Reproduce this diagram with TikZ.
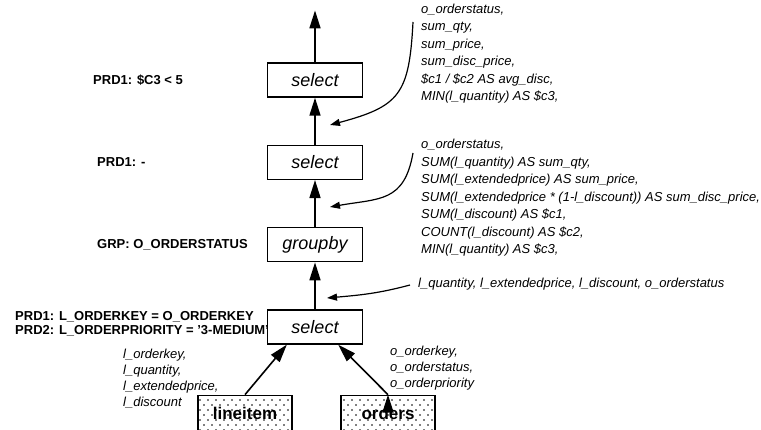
\documentclass[tikz,border=0pt]{standalone}
\usepackage{fontspec}
\setmainfont{Liberation Sans}
\usepackage{tikz}
\usetikzlibrary{positioning, arrows.meta, patterns}

% sparse dot fill of the base relations
\pgfdeclarepatternformonly{sparse dots}{\pgfqpoint{-1pt}{-1pt}}{\pgfqpoint{5pt}{6pt}}{\pgfqpoint{8pt}{10pt}}{%
  \pgfpathcircle{\pgfqpoint{0pt}{0pt}}{0.9pt}%
  \pgfpathcircle{\pgfqpoint{4pt}{5pt}}{0.9pt}%
  \pgfusepath{fill}}

\begin{document}
\begin{tikzpicture}[x=1pt, y=1pt, node distance=47pt,
    op/.style={draw, line width=1.3pt, minimum width=95pt, minimum height=34pt, inner sep=0pt, font=\fontsize{18}{20}\selectfont\itshape},
    rel/.style={op, minimum width=94pt, minimum height=36pt, pattern=sparse dots, font=\fontsize{17}{20}\selectfont\bfseries},
    lbl/.style={anchor=west, inner sep=0pt, font=\fontsize{13}{14}\selectfont\bfseries},
    attr/.style={anchor=north west, align=left, inner sep=0pt, font=\fontsize{13}{17.5}\selectfont\itshape},
    leafattr/.style={attr, font=\fontsize{13}{16}\selectfont\itshape},
    flow/.style={line width=1.6pt, -{Triangle[length=18pt,width=11pt]}},
    feed/.style={line width=1.2pt, -{Triangle[length=10pt,width=7pt]}}]
        \useasboundingbox (0,0) rectangle (761,-430);

        \node[op](sel1) at (315,-327){select};
        \node[op](grp)[above = of sel1]{groupby};
        \node[op](sel2)[above = of grp]{select};
        \node[op](sel3)[above = of sel2]{select};
        \node[rel](li)[below = 50pt of sel1, xshift=-70pt]{lineitem};
        \node[rel](ord)[below = 50pt of sel1, xshift=73pt]{orders};
        \coordinate[above = 52pt of sel3](out);

        \path[draw, flow]
        (sel3) edge (out)
        (sel2) edge (sel3)
        (grp) edge (sel2)
        (sel1) edge (grp)
        (li.north) edge ([xshift=20pt]sel1.south west)
        (ord.north) edge ([xshift=-25pt]sel1.south east);

        % operator arguments
        \node[lbl](p3) at (93,0 |- sel3){PRD1: \$C3 < 5};
        \node[lbl](p2) at (97,0 |- sel2){PRD1: -};
        \node[lbl](gp) at (97,0 |- grp){GRP: O\_ORDERSTATUS};
        \node[lbl, anchor=north west, align=left](p1) at (15,-311){PRD1: L\_ORDERKEY = O\_ORDERKEY\\PRD2: L\_ORDERPRIORITY = '3-MEDIUM'};

        % projected columns
        \node[attr](c3) at (421,-3.5){o\_orderstatus,\\sum\_qty,\\sum\_price,\\sum\_disc\_price,\\\$c1 / \$c2 AS avg\_disc,\\MIN(l\_quantity) AS \$c3,};
        \node[attr](c2) at (421,-139){o\_orderstatus,\\SUM(l\_quantity) AS sum\_qty,\\SUM(l\_extendedprice) AS sum\_price,\\SUM(l\_extendedprice * (1-l\_discount)) AS sum\_disc\_price,\\SUM(l\_discount) AS \$c1,\\COUNT(l\_discount) AS \$c2,\\MIN(l\_quantity) AS \$c3,};
        \node[attr](c1) at (418,-278){l\_quantity, l\_extendedprice, l\_discount, o\_orderstatus};
        \node[leafattr](cl) at (123,-349){l\_orderkey,\\l\_quantity,\\l\_extendedprice,\\l\_discount};
        \node[leafattr](co) at (390,-346){o\_orderkey,\\o\_orderstatus,\\o\_orderpriority};

        \coordinate (f3a) at (413,-22);
        \coordinate (f3b) at (330,-125);
        \coordinate (f2a) at (413,-153);
        \coordinate (f2b) at (330,-207);
        \coordinate (f1a) at (410,-285);
        \coordinate (f1b) at (327,-298);
        \draw[feed] (f3a) to[out=-93, in=15, looseness=1.4] (f3b);
        \draw[feed] (f2a) to[out=-100, in=10, looseness=1.3] (f2b);
        \draw[feed] (f1a) to[out=195, in=5] (f1b);
\end{tikzpicture}
\end{document}
